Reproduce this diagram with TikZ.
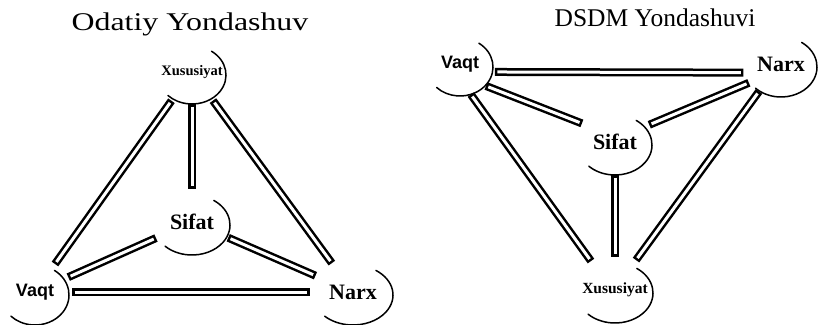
\documentclass[tikz,border=0pt]{standalone}
\usepackage{fontspec}
\setmainfont{Liberation Serif}
\newfontfamily\labelsans{Liberation Sans}
\usetikzlibrary{shapes.geometric}
% shaded rim on the lower right of a disc: node, x radius, y radius
\newcommand\rimarc[3]{\draw[rim] (#1.center) ++(0,-3) ++(55:#2pt and #3pt)
  arc[start angle=55,end angle=-135,x radius=#2pt,y radius=#3pt];}
\begin{document}
\begin{tikzpicture}[x=1pt,y=1pt,
  disc/.style={ellipse, inner sep=0pt},
  title/.style={font=\fontsize{25.5}{28}\selectfont},
  big/.style={font=\fontsize{22}{24}\bfseries\selectfont},
  sanslbl/.style={font=\fontsize{18}{20}\labelsans\bfseries\selectfont},
  small/.style={font=\fontsize{14.5}{16}\bfseries\selectfont},
  rim/.style={line width=1.5pt, line cap=round},
  bar/.style={line width=8pt, shorten <=3pt, shorten >=3pt,
    postaction={draw=white, line width=3pt, shorten <=5.5pt, shorten >=5.5pt}}]
\useasboundingbox (0,0) rectangle (821,324);

% headings
\node[title, xscale=1.25] (t1) at (190,300) {Odatiy Yondashuv};
\node[title] (t2) at (655,306) {DSDM Yondashuvi};

% traditional approach
\node[disc, small, minimum width=68pt, minimum height=58pt] (lx) at (192,252) {Xususiyat};
\node[disc, big, minimum width=76pt, minimum height=60pt] (ls) at (192,102) {Sifat};
\node[disc, sanslbl, minimum width=68pt, minimum height=60pt] (lv) at (35,32) {Vaqt};
\node[disc, big, minimum width=80pt, minimum height=60pt] (ln) at (353,32) {Narx};

\draw[bar] (lx) -- (lv);
\draw[bar] (lx.-90) -- (ls.90);
\draw[bar] (lx) -- (ln);
\draw[bar] (ls) -- (lv);
\draw[bar] (ls) -- (ln);
\draw[bar] (lv) -- (ln);

\rimarc{lx}{34}{29}
\rimarc{ls}{38}{30}
\rimarc{lv}{34}{30}
\rimarc{ln}{40}{30}

% DSDM approach
\node[disc, sanslbl, minimum width=66pt, minimum height=58pt] (rv) at (460,260) {Vaqt};
\node[disc, big, minimum width=72pt, minimum height=60pt] (rn) at (781,260) {Narx};
\node[disc, big, minimum width=74pt, minimum height=60pt] (rs) at (615,182) {Sifat};
\node[disc, small, font=\fontsize{15.5}{17}\bfseries\selectfont,
      minimum width=76pt, minimum height=60pt] (rx) at (615,34) {Xususiyat};

\draw[bar] (rv.-14) -- (rn.194);
\draw[bar] (rv.-42) -- (rs.150);
\draw[bar] (rv.-72) -- (rx.130);
\draw[bar] (rn.-149) -- (rs.27);
\draw[bar] (rn.-129) -- (rx.55);
\draw[bar] (rs.-90) -- (rx.90);

\rimarc{rv}{33}{29}
\rimarc{rn}{36}{30}
\rimarc{rs}{37}{30}
\rimarc{rx}{38}{30}
\end{tikzpicture}
\end{document}
